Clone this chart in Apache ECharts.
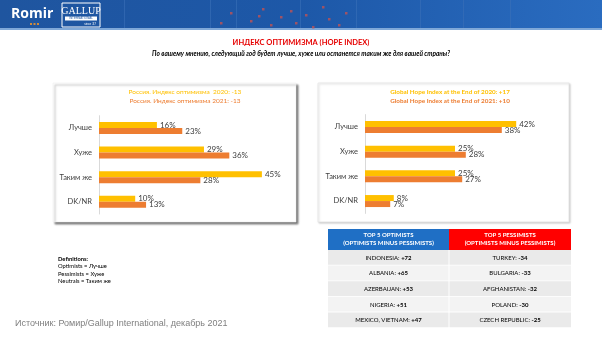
<!DOCTYPE html>
<html>
<head>
<meta charset="utf-8">
<script src="https://cdn.jsdelivr.net/npm/echarts@6/dist/echarts.min.js"></script>
<style>
html,body{margin:0;padding:0;background:#fff;}
#c{width:602px;height:339px;}
</style>
</head>
<body>
<div id="c"></div>
<script>
// ---- data ----
const categories = ['Лучше', 'Хуже', 'Таким же', 'DK/NR'];
const russia2020 = [16, 29, 45, 10];
const russia2021 = [23, 36, 28, 13];
const global2020 = [42, 25, 25, 8];
const global2021 = [38, 28, 27, 7];
const optCountries = ['INDONESIA', 'ALBANIA', 'AZERBAIJAN', 'NIGERIA', 'MEXICO, VIETNAM'];
const optValues = ['+72', '+65', '+53', '+51', '+47'];
const pesCountries = ['TURKEY', 'BULGARIA', 'AFGHANISTAN', 'POLAND', 'CZECH REPUBLIC'];
const pesValues = ['-34', '-33', '-32', '-30', '-25'];

const YEL = '#FFC000', ORA = '#ED7D31';
const FONT = 'Lato, "Open Sans", sans-serif';

const chart = echarts.init(document.getElementById('c'), null, {renderer: 'canvas'});

function txt(x, y, text, font, fill, align, extra) {
  return Object.assign({type: 'text', x: x, y: y, style: Object.assign({text: text, font: font, fill: fill, align: align || 'left', verticalAlign: 'middle'}, extra || {})});
}

const graphics = [];
// banner
graphics.push({type: 'rect', shape: {x: 0, y: 0, width: 602, height: 30}, z: 0,
  style: {fill: new echarts.graphic.LinearGradient(0, 0, 1, 0, [
    {offset: 0, color: '#1f559f'}, {offset: 0.5, color: '#1d58a8'}, {offset: 1, color: '#2a6cc0'}])}});
graphics.push({type: 'rect', shape: {x: 0, y: 28, width: 602, height: 2}, style: {fill: '#7fa8d8'}});
[[230,12],[250,20],[262,8],[270,24],[280,16],[290,10],[295,22],[305,14],[312,26],[322,6],[328,18],[338,24],[220,22],[345,12],[258,15]].forEach(p => {
  graphics.push({type: 'rect', shape: {x: p[0], y: p[1], width: 2.5, height: 2.5}, style: {fill: '#c9514f', opacity: 0.75}});
});
[124,210,236,300,356,420,463,510].forEach(x => {
  graphics.push({type: 'rect', shape: {x: x, y: 0, width: 1, height: 28}, style: {fill: '#3a6fb8', opacity: 0.6}});
});
graphics.push(txt(11, 14, 'Romir', 'bold 14px "Open Sans", sans-serif', '#ffffff'));
[30, 33.5, 37].forEach(x => graphics.push({type: 'rect', shape: {x: x, y: 23, width: 2, height: 2}, style: {fill: '#d08a3a'}}));
graphics.push({type: 'rect', shape: {x: 62, y: 3, width: 38, height: 24}, style: {fill: 'none', stroke: '#ffffff', lineWidth: 1}});
graphics.push(txt(81, 11, 'GALLUP', '10px "Liberation Serif", serif', '#ffffff', 'center'));
graphics.push({type: 'rect', shape: {x: 65, y: 16.5, width: 32, height: 4}, style: {fill: '#ffffff'}});
graphics.push(txt(81, 18.5, 'INTERNATIONAL', '3px sans-serif', '#1f559f', 'center'));
graphics.push(txt(90, 24, "since '47", '3px sans-serif', '#ffffff', 'center'));

// titles
graphics.push(txt(301, 43, 'ИНДЕКС ОПТИМИЗМА (HOPE INDEX)', 'bold 7.5px ' + FONT, '#e60000', 'center'));
graphics.push(txt(301, 54, 'По вашему мнению, следующий год будет лучше, хуже или останется таким же для вашей страны?', 'italic bold 6.5px ' + FONT, '#000000', 'center'));

// panels
graphics.push({type: 'rect', shape: {x: 53, y: 83, width: 243, height: 139}, z: 0,
  style: {fill: '#ffffff', stroke: '#e8e8e8', lineWidth: 0.5, shadowBlur: 2, shadowOffsetX: 2, shadowOffsetY: 2, shadowColor: 'rgba(0,0,0,0.55)'}});
graphics.push({type: 'rect', shape: {x: 318, y: 83, width: 251, height: 139}, z: 0,
  style: {fill: '#ffffff', stroke: '#e3e3e3', lineWidth: 0.7, shadowBlur: 2, shadowOffsetX: 1, shadowOffsetY: 1, shadowColor: 'rgba(0,0,0,0.2)'}});

graphics.push(txt(185, 92, 'Россия. Индекс оптимизма  2020: -13', '6.5px ' + FONT, YEL, 'center'));
graphics.push(txt(185, 101, 'Россия. Индекс оптимизма 2021: -13', '6.5px ' + FONT, ORA, 'center'));
graphics.push(txt(450, 92, 'Global Hope Index at the End of 2020: +17', 'bold 6.3px ' + FONT, YEL, 'center'));
graphics.push(txt(450, 101, 'Global Hope Index at the End of 2021: +10', 'bold 6.3px ' + FONT, ORA, 'center'));

// table
const tx = 328, tmid = 449, tr = 571, ty = 229, th = 21, rh = 15.6;
graphics.push({type: 'rect', shape: {x: tx, y: ty, width: tmid - tx, height: th}, style: {fill: '#1f6fc5'}});
graphics.push({type: 'rect', shape: {x: tmid, y: ty, width: tr - tmid, height: th}, style: {fill: '#ff0000'}});
graphics.push(txt((tx + tmid) / 2, ty + th / 2, 'TOP 5 OPTIMISTS\n(OPTIMISTS MINUS PESSIMISTS)', 'bold 6px ' + FONT, '#ffffff', 'center', {lineHeight: 8}));
graphics.push(txt((tmid + tr) / 2, ty + th / 2, 'TOP 5 PESSIMISTS\n(OPTIMISTS MINUS PESSIMISTS)', 'bold 6px ' + FONT, '#ffffff', 'center', {lineHeight: 8}));
const rich = {n: {fontSize: 6, fontFamily: FONT, color: '#262626'}, b: {fontSize: 6, fontFamily: FONT, fontWeight: 'bold', color: '#000000'}};
for (let i = 0; i < optCountries.length; i++) {
  const y0 = ty + th + i * rh;
  const fill = i % 2 === 0 ? '#eaeaea' : '#f3f3f3';
  graphics.push({type: 'rect', shape: {x: tx, y: y0, width: tmid - tx - 0.5, height: rh - 0.8}, style: {fill: fill}});
  graphics.push({type: 'rect', shape: {x: tmid + 0.5, y: y0, width: tr - tmid - 0.5, height: rh - 0.8}, style: {fill: fill}});
  graphics.push({type: 'text', x: (tx + tmid) / 2, y: y0 + rh / 2, style: {text: '{n|' + optCountries[i] + ': }{b|' + optValues[i] + '}', rich: rich, align: 'center', verticalAlign: 'middle'}});
  graphics.push({type: 'text', x: (tmid + tr) / 2, y: y0 + rh / 2, style: {text: '{n|' + pesCountries[i] + ': }{b|' + pesValues[i] + '}', rich: rich, align: 'center', verticalAlign: 'middle'}});
}

// definitions + source
graphics.push(txt(58, 259, 'Definitions:', 'bold 5.8px ' + FONT, '#000'));
graphics.push(txt(58, 266.5, 'Optimists = Лучше', '5.8px ' + FONT, '#000'));
graphics.push(txt(58, 274, 'Pessimists = Хуже', '5.8px ' + FONT, '#000'));
graphics.push(txt(58, 281.5, 'Neutrals = Таким же', '5.8px ' + FONT, '#000'));
graphics.push(txt(15, 324, 'Источник: Ромир/Gallup International, декабрь 2021', '9px "Liberation Sans", Arial, sans-serif', '#7f7f7f'));

function barSeries(data, color, xi) {
  return {
    type: 'bar', data: data, xAxisIndex: xi, yAxisIndex: xi,
    barWidth: 6, barGap: '0%', itemStyle: {color: color},
    label: {show: true, position: 'right', distance: 3, formatter: '{c}%', fontSize: 8, fontFamily: FONT, color: '#404040'},
    silent: true, animation: false
  };
}
function yAx(gi) {
  return {type: 'category', gridIndex: gi, data: categories, inverse: true,
    axisLine: {show: true, lineStyle: {color: '#d9d9d9', width: 1}}, axisTick: {show: false},
    axisLabel: {fontSize: 7.5, fontFamily: FONT, color: '#404040', margin: 7}};
}
function xAx(gi) {
  return {type: 'value', gridIndex: gi, min: 0, max: 50, show: false, splitLine: {show: false}};
}

chart.setOption({
  animation: false,
  graphic: {elements: graphics},
  grid: [
    {left: 99, top: 115.7, width: 181, height: 98.3, containLabel: false},
    {left: 365, top: 114.6, width: 180, height: 98.8, containLabel: false}
  ],
  xAxis: [xAx(0), xAx(1)],
  yAxis: [yAx(0), yAx(1)],
  series: [
    barSeries(russia2020, YEL, 0),
    barSeries(russia2021, ORA, 0),
    barSeries(global2020, YEL, 1),
    barSeries(global2021, ORA, 1)
  ]
});
</script>
</body>
</html>
